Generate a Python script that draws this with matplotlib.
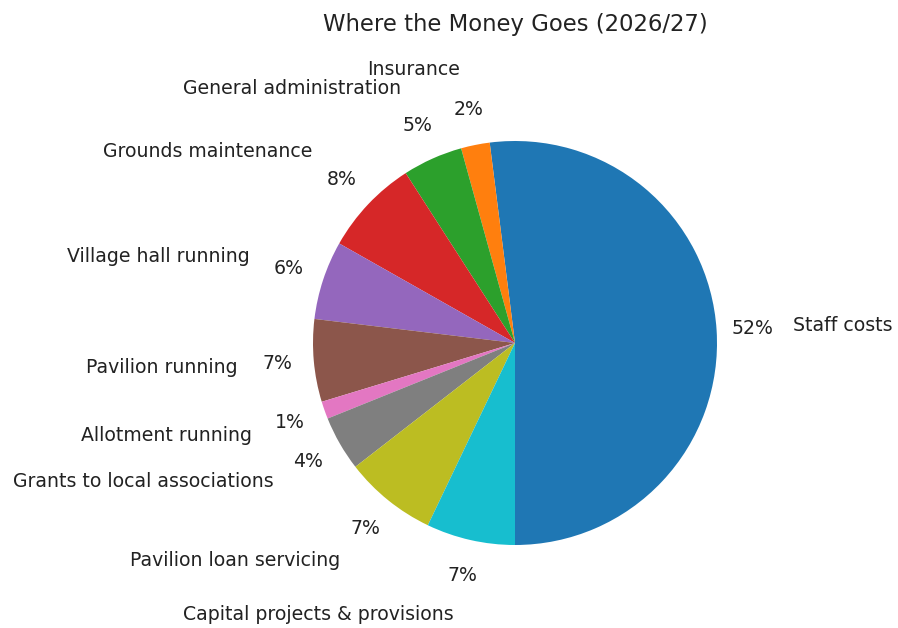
import matplotlib
matplotlib.use("Agg")
import matplotlib.pyplot as plt

# budget share by category (percent of total spend)
categories = ["Staff costs", "Insurance", "General administration",
              "Grounds maintenance", "Village hall running", "Pavilion running",
              "Allotment running", "Grants to local associations",
              "Pavilion loan servicing", "Capital projects & provisions"]
shares = [52.0, 2.3, 4.8, 7.7, 6.3, 6.6, 1.4, 4.4, 7.4, 7.1]

W, H = 898, 628
cx, cy, r = 515, 343, 202  # pie centre and radius in pixels

fig = plt.figure(figsize=(W / 100, H / 100), dpi=100)
side = 2.5 * r
ax = fig.add_axes([(cx - side / 2) / W, (H - cy - side / 2) / H, side / W, side / H])
ax.pie(shares, labels=categories, autopct="%1.0f%%", startangle=-90,
       labeldistance=1.38, pctdistance=1.18,
       textprops={"fontsize": 13.6, "color": "#222222"})
ax.set_xlim(-1.25, 1.25)
ax.set_ylim(-1.25, 1.25)

fig.text(cx / W, 1 - 24 / H, "Where the Money Goes (2026/27)",
         ha="center", va="center", fontsize=16.4, color="#222222")

fig.savefig("out.png", dpi=100)
